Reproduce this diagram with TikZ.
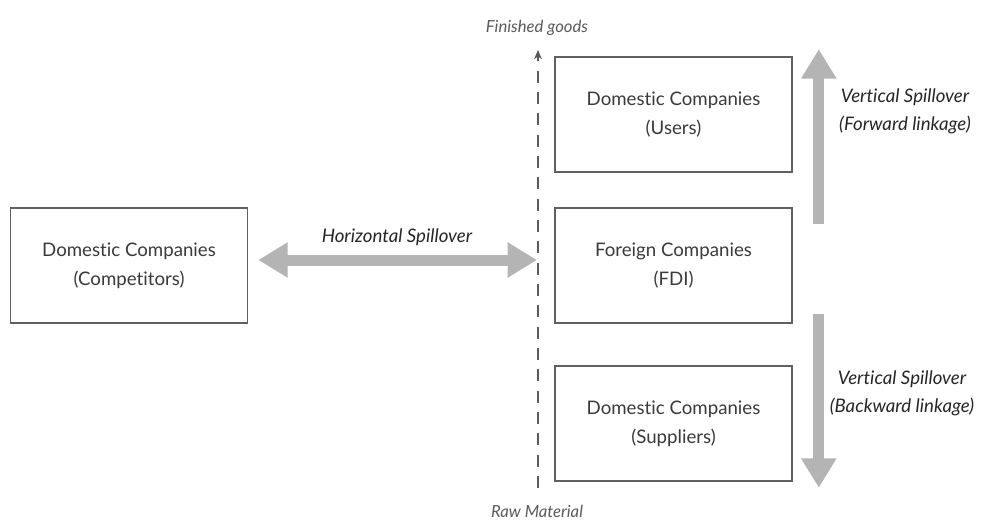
\documentclass[tikz,border=0pt]{standalone}
\usepackage{fontspec}
\setmainfont{Lato}[Ligatures={NoCommon}]
\usepackage{tikz}
\usetikzlibrary{arrows.meta,positioning,calc}
\usepackage{xcolor}
\definecolor{boxline}{HTML}{606060}
\definecolor{boxtext}{HTML}{3A3A3A}
\definecolor{spillgray}{HTML}{B4B4B4}
\definecolor{axisgray}{HTML}{5A5A5A}

\begin{document}
\begin{tikzpicture}[x=0.75pt, y=-0.75pt,
    company/.style={rectangle, draw=boxline, line width=1.2pt, minimum width=177.75pt, minimum height=86.25pt, align=center, text=boxtext, font=\fontsize{14}{21.75}\selectfont},
    spill/.style={draw=spillgray, line width=8.25pt, >={Triangle[length=22pt,width=25pt]}},
    spilltext/.style={align=center, text=black!85, font=\itshape\fontsize{14}{21}\selectfont},
    axisline/.style={draw=axisgray, line width=0.9pt, dash pattern=on 9pt off 7pt, -{Stealth[length=7pt,width=6pt]}},
    axistext/.style={text=axisgray, font=\itshape\fontsize{12.5}{15}\selectfont}]
    \useasboundingbox (0,0) rectangle (985,524);

    % companies
    \node[company] (comp) at (129,265.5) {Domestic Companies\\(Competitors)};
    \node[company] (users) at (673.5,114.5) {Domestic Companies\\(Users)};
    \node[company] (fdi) at (673.5,265.5) {Foreign Companies\\(FDI)};
    \node[company] (supp) at (673.5,423.5) {Domestic Companies\\(Suppliers)};

    % value chain axis
    \coordinate (axisbot) at (538,488);
    \coordinate (axistop) at (538,50);
    \draw[axisline] (axisbot) -- (axistop);
    \node[axistext] (goods) at (537,28) {Finished goods};
    \node[axistext] (raw) at (537,511) {Raw Material};

    % spillovers
    \draw[spill,<->] ($(comp.east)+(10,-5.5)$) -- ($(comp.east -| axistop)+(-1,-5.5)$);
    \node[spilltext] (horiz) at (397,237) {Horizontal Spillover};
    \draw[spill,->] ($(fdi.north east)+(26,17)$) -- ($(users.north east)+(26,-7)$);
    \node[spilltext] (fwd) at (905,111) {Vertical Spillover\\(Forward linkage)};
    \draw[spill,->] ($(fdi.south east)+(26,-10)$) -- ($(supp.south east)+(26,6)$);
    \node[spilltext] (bwd) at (902,393) {Vertical Spillover\\(Backward linkage)};
\end{tikzpicture}
\end{document}
